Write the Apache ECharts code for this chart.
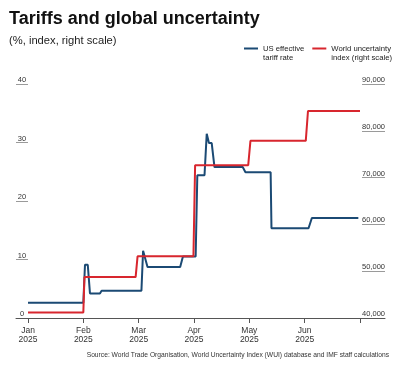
<!DOCTYPE html>
<html><head><meta charset="utf-8">
<script src="https://cdn.jsdelivr.net/npm/echarts@6/dist/echarts.min.js"></script>
<style>html,body{margin:0;padding:0;background:#fff}#c{width:400px;height:370px}</style>
</head><body><div id="c"></div>
<script>
// x positions are in months since 1 Jan 2025 (0 = Jan, 1 = Feb, ...)
const monthLabels = ['Jan\n2025', 'Feb\n2025', 'Mar\n2025', 'Apr\n2025', 'May\n2025', 'Jun\n2025', ''];
const tariffName = 'US effective\ntariff rate';
const wuiName = 'World uncertainty\nindex (right scale)';
const tariffX = [0, 1.0, 1.03, 1.08, 1.12, 1.30, 1.33, 2.05, 2.08, 2.11, 2.16, 2.75, 2.80, 3.03, 3.06, 3.19, 3.23, 3.27, 3.32, 3.37, 3.88, 3.93, 4.385, 4.40, 5.07, 5.13, 5.97];
const tariffY = [2.6, 2.6, 9.1, 9.1, 4.2, 4.2, 4.65, 4.65, 11.5, 11.4, 8.7, 8.7, 10.5, 10.5, 24.4, 24.4, 31.5, 29.9, 29.9, 25.8, 25.8, 24.9, 24.9, 15.35, 15.35, 17.1, 17.1];
const wuiX = [0, 1.0, 1.02, 1.945, 1.98, 2.99, 3.02, 3.98, 4.02, 5.02, 5.06, 6.0];
const wuiY = [41200, 41200, 48740, 48740, 53170, 53170, 72650, 72650, 77860, 77860, 84220, 84220];
const leftMin = 0, leftMax = 40, leftStep = 10;
const rightMin = 40000, rightMax = 90000, rightStep = 10000;

const BLUE = '#1b4a74', RED = '#d8262e';
const FONT = 'Liberation Sans';
const TOP = 84, H = 234;
// legend key: a short bar beside the first text line (degenerate subpaths only set the icon box)
const KEY_ICON = 'path://M0,0L14,0Z M0,3.5L14,3.5L14,5.5L0,5.5Z M0,18L14,18Z';

const chart = echarts.init(document.getElementById('c'), null, {renderer: 'canvas'});
chart.setOption({
  animation: false,
  textStyle: {fontFamily: FONT},
  title: [
    {text: 'Tariffs and global uncertainty', left: 9, top: 10.5, padding: 0,
     textStyle: {fontFamily: FONT, fontSize: 18, fontWeight: 'bold', color: '#111'}},
    {text: '(%, index, right scale)', left: 9, top: 35, padding: 0,
     textStyle: {fontFamily: FONT, fontSize: 11.2, fontWeight: 'normal', color: '#222'}},
    {text: 'Source: World Trade Organisation, World Uncertainty Index (WUI) database and IMF staff calculations',
     right: 11, top: 352, padding: 0, textStyle: {fontFamily: FONT, fontSize: 6.7, fontWeight: 'normal', color: '#333'}}
  ],
  legend: {
    data: [tariffName, wuiName], left: 244, top: 44, padding: 0, itemGap: 8,
    icon: KEY_ICON, itemWidth: 14, itemHeight: 18,
    itemStyle: {borderWidth: 0},
    textStyle: {fontFamily: FONT, fontSize: 7.7, lineHeight: 9, color: '#222'}
  },
  grid: [
    {left: 28, right: 40, top: TOP, height: H},
    {left: 16, width: 12, top: TOP, height: H},
    {left: 362, right: 15, top: TOP, height: H},
    {left: 16, right: 15, top: TOP, height: H}
  ],
  xAxis: [
    {type: 'value', gridIndex: 0, min: 0, max: monthLabels.length - 1, interval: 1,
     axisLine: {show: false}, splitLine: {show: false},
     axisTick: {show: true, length: 5, lineStyle: {color: '#555'}},
     axisLabel: {formatter: v => monthLabels[Math.round(v)] || '', fontSize: 8.5, lineHeight: 9, color: '#333', margin: 8, fontFamily: FONT}},
    {type: 'value', gridIndex: 1, show: false},
    {type: 'value', gridIndex: 2, show: false},
    {type: 'value', gridIndex: 3, min: 0, max: 1, axisLine: {show: true, lineStyle: {color: '#555', width: 1}},
     axisTick: {show: false}, axisLabel: {show: false}, splitLine: {show: false}}
  ],
  yAxis: [
    {type: 'value', gridIndex: 0, min: leftMin, max: leftMax, show: false},
    {type: 'value', gridIndex: 0, min: rightMin, max: rightMax, show: false},
    {type: 'value', gridIndex: 1, min: leftMin, max: leftMax, interval: leftStep,
     axisLine: {show: false}, axisTick: {show: false},
     splitLine: {show: true, lineStyle: {color: '#9a9a9a', width: 1}},
     axisLabel: {fontSize: 7.5, lineHeight: 8, color: '#333', align: 'center', verticalAlign: 'bottom', margin: -6, padding: [0, 0, 0, 0], fontFamily: FONT}},
    {type: 'value', gridIndex: 2, position: 'right', min: rightMin, max: rightMax, interval: rightStep,
     axisLine: {show: false}, axisTick: {show: false},
     splitLine: {show: true, lineStyle: {color: '#9a9a9a', width: 1}},
     axisLabel: {fontSize: 7.5, lineHeight: 8, color: '#333', align: 'right', verticalAlign: 'bottom', margin: 0, padding: [0, 0, 0, 0], fontFamily: FONT,
       formatter: v => v.toLocaleString('en-US')}},
    {type: 'value', gridIndex: 3, show: false}
  ],
  series: [
    {name: tariffName, type: 'line', xAxisIndex: 0, yAxisIndex: 0, showSymbol: false, symbol: 'none',
     color: BLUE, lineStyle: {width: 2, color: BLUE},
     data: tariffX.map((x, i) => [x, tariffY[i]])},
    {name: wuiName, type: 'line', xAxisIndex: 0, yAxisIndex: 1, showSymbol: false, symbol: 'none',
     color: RED, lineStyle: {width: 2, color: RED},
     data: wuiX.map((x, i) => [x, wuiY[i]])}
  ]
});
</script></body></html>
